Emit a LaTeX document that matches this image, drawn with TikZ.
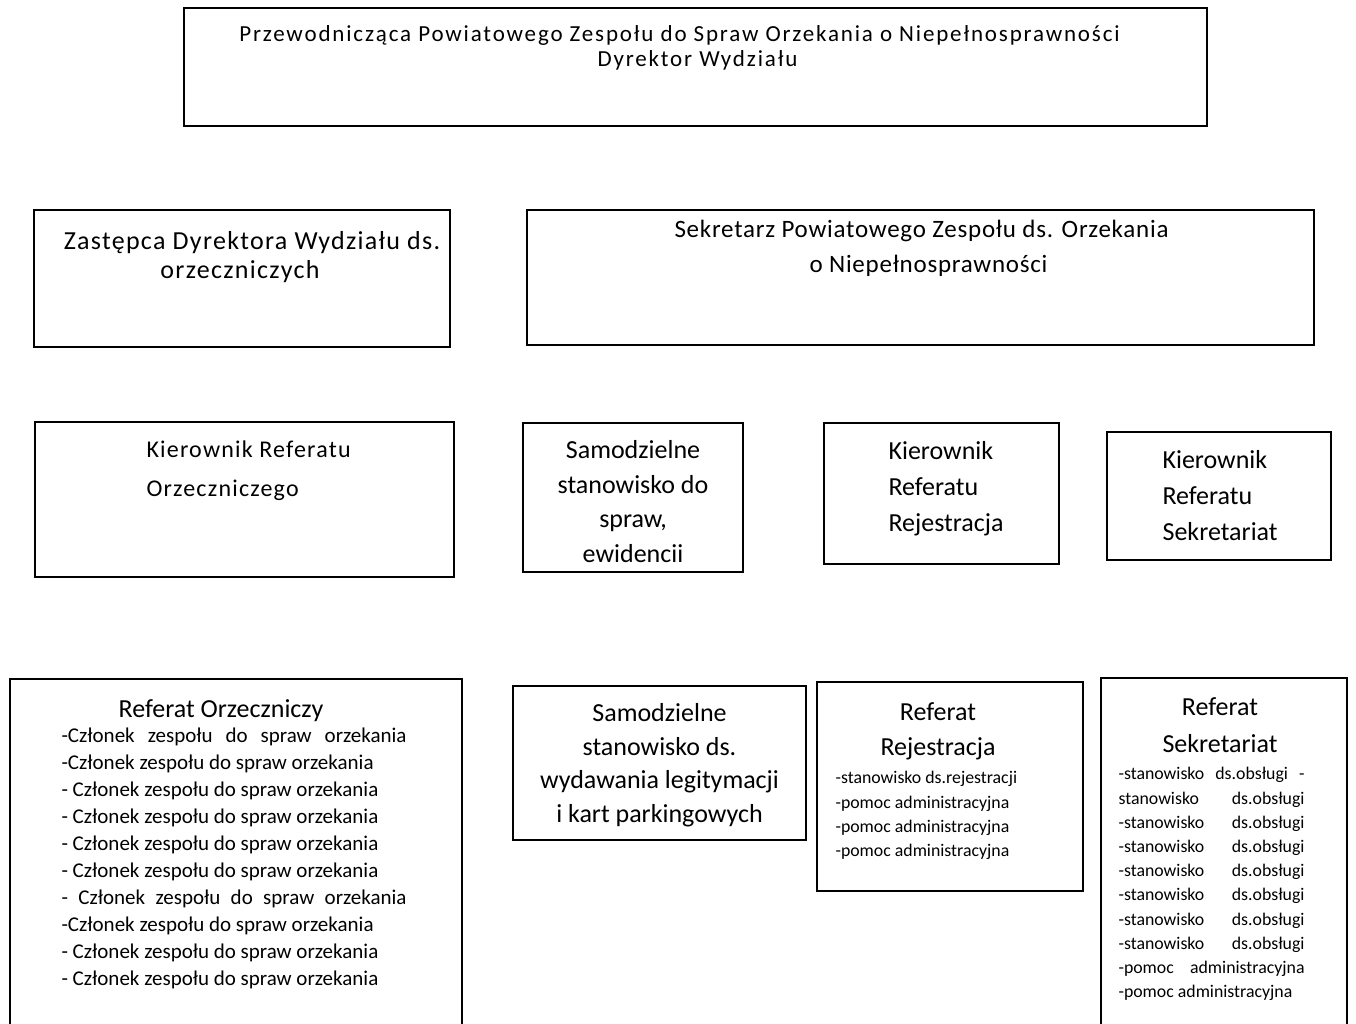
\documentclass[tikz,border=0pt]{standalone}
\usepackage{fontspec}
\setmainfont{Carlito}
\usetikzlibrary{positioning}

\begin{document}
\begin{tikzpicture}[x=1pt, y=1pt,
    box/.style={rectangle, draw, line width=1.3pt, inner sep=0pt},
    txt/.style={inner sep=0pt, align=center},
    lst/.style={inner sep=0pt, align=left, font=\fontsize{17.8}{24.2}\selectfont}
]
\useasboundingbox (0,-1023) rectangle (1356,0);
\clip (0,-1023) rectangle (1356,0);

% top level
\node[box, minimum width=1023pt, minimum height=118pt] (head) at (695.5,-67) {};
\node[txt, below=18pt of head.north, xshift=2pt, font=\fontsize{23}{25}\selectfont\addfontfeature{LetterSpace=8}] {Przewodnicząca Powiatowego Zespołu do Spraw Orzekania o Niepełnosprawności\hspace*{36pt}\\Dyrektor Wydziału};

% second level
\node[box, minimum width=416pt, minimum height=137pt] (zast) at (242,-278.5) {};
\node[txt, below=22pt of zast.north, xshift=-2pt, font=\fontsize{26}{29}\selectfont\addfontfeature{LetterSpace=5}] {\hspace*{24pt}Zastępca Dyrektora Wydziału ds.\\orzeczniczych};

\node[box, minimum width=787pt, minimum height=135pt] (sekr) at (920.5,-277.5) {};
\node[txt, below=11pt of sekr.north, xshift=8pt, font=\fontsize{25}{35}\selectfont\addfontfeature{LetterSpace=3}] {Sekretarz Powiatowego Zespołu ds. Orzekania\hspace*{14pt}\\o Niepełnosprawności};

% third level
\node[box, minimum width=419pt, minimum height=155pt] (kor) at (244.5,-499.5) {};
\node[txt, align=left, below right=19pt and 112pt of kor.north west, font=\fontsize{24}{39}\selectfont\addfontfeature{LetterSpace=5}] {Kierownik Referatu\\Orzeczniczego};

\node[box, minimum width=220pt, minimum height=149pt] (samo) at (633,-497.5) {};
\node[txt, below=18pt of samo.north, font=\fontsize{26}{34.5}\selectfont] {Samodzielne\\stanowisko do\\spraw,\\ewidencii};

\node[box, minimum width=235pt, minimum height=141pt] (krej) at (941.5,-493.5) {};
\node[txt, align=left, below right=19pt and 65pt of krej.north west, font=\fontsize{26}{36}\selectfont] {Kierownik\\Referatu\\Rejestracja};

\node[box, minimum width=224pt, minimum height=128pt] (ksek) at (1219,-496) {};
\node[txt, align=left, below right=19pt and 56pt of ksek.north west, font=\fontsize{26}{36}\selectfont] {Kierownik\\Referatu\\Sekretariat};

% fourth level
\node[box, minimum width=452pt, minimum height=356pt] (rorz) at (236,-857) {};
\node[txt, below=21pt of rorz.north, xshift=-15pt, font=\fontsize{26}{35}\selectfont] {Referat Orzeczniczy};
\node[lst, below right=49pt and 52pt of rorz.north west, font=\fontsize{21}{27}\selectfont] {%
\makebox[345pt][s]{-Członek zespołu do spraw orzekania}\\
-Członek zespołu do spraw orzekania\\
- Członek zespołu do spraw orzekania\\
- Członek zespołu do spraw orzekania\\
- Członek zespołu do spraw orzekania\\
- Członek zespołu do spraw orzekania\\
\makebox[345pt][s]{- Członek zespołu do spraw orzekania}\\
-Członek zespołu do spraw orzekania\\
- Członek zespołu do spraw orzekania\\
- Członek zespołu do spraw orzekania};

\node[box, minimum width=293pt, minimum height=154pt] (sleg) at (659.5,-763) {};
\node[txt, below=18pt of sleg.north, font=\fontsize{26}{33.5}\selectfont] {Samodzielne\\stanowisko ds.\\wydawania legitymacji\\i kart parkingowych};

\node[box, minimum width=266pt, minimum height=209pt] (rrej) at (950,-786.5) {};
\node[txt, below=21pt of rrej.north, xshift=-12pt, font=\fontsize{26}{35}\selectfont] {Referat\\Rejestracja};
\node[lst, below right=90pt and 19pt of rrej.north west] {%
-stanowisko ds.rejestracji\\
-pomoc administracyjna\\
-pomoc administracyjna\\
-pomoc administracyjna};

\node[box, minimum width=246pt, minimum height=357pt] (rsek) at (1224,-856.5) {};
\node[txt, below=20pt of rsek.north, xshift=-4pt, font=\fontsize{26}{37}\selectfont] {Referat\\Sekretariat};
\node[lst, below right=90pt and 18pt of rsek.north west] {%
\makebox[186pt][s]{-stanowisko ds.obsługi -}\\
\makebox[186pt][s]{stanowisko ds.obsługi}\\
\makebox[186pt][s]{-stanowisko ds.obsługi}\\
\makebox[186pt][s]{-stanowisko ds.obsługi}\\
\makebox[186pt][s]{-stanowisko ds.obsługi}\\
\makebox[186pt][s]{-stanowisko ds.obsługi}\\
\makebox[186pt][s]{-stanowisko ds.obsługi}\\
\makebox[186pt][s]{-stanowisko ds.obsługi}\\
\makebox[186pt][s]{-pomoc administracyjna}\\
-pomoc administracyjna};
\end{tikzpicture}
\end{document}
